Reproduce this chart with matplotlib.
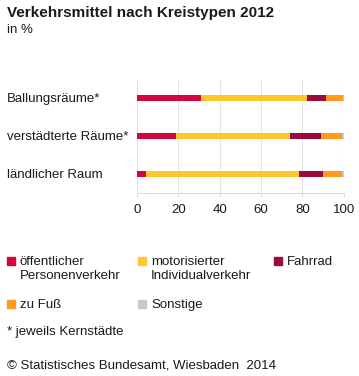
import matplotlib.pyplot as plt
from matplotlib.patches import Rectangle

plt.rcParams['font.family'] = ['Liberation Sans', 'DejaVu Sans']

regions = ['Ballungsräume*', 'verstädterte Räume*', 'ländlicher Raum']
series = ['öffentlicher\nPersonenverkehr', 'motorisierter\nIndividualverkehr', 'Fahrrad', 'zu Fuß', 'Sonstige']
oepv = [31, 19, 4.5]
miv = [51, 55, 74]
fahrrad = [9.5, 15, 11.5]
fuss = [8, 10, 9]
sonstige = [0.5, 1, 1]
values = [oepv, miv, fahrrad, fuss, sonstige]
colors = ['#d2073b', '#ffc72c', '#9c0b3d', '#ff9a1c', '#c9c9c9']
ticks = [0, 20, 40, 60, 80, 100]

fig = plt.figure(figsize=(3.59, 3.76), dpi=100)
ax = fig.add_axes([0.381, 0.487, 0.577, 0.300])

left = [0, 0, 0]
for vals, c in zip(values, colors):
    ax.barh(range(len(regions)), vals, left=left, height=0.16, color=c, zorder=3)
    left = [a + b for a, b in zip(left, vals)]

ax.set_xlim(0, 100)
ax.set_ylim(2.5, -0.47)
ax.set_xticks(ticks)
ax.set_yticks(range(len(regions)))
ax.set_yticklabels(regions, fontsize=9.5, color='#1a1a1a')
ax.tick_params(axis='y', length=0, pad=0)
for lab in ax.get_yticklabels():
    lab.set_horizontalalignment('left')
    lab.set_x(-0.627)
ax.tick_params(axis='x', length=3, color='#dddddd', labelsize=9.5, labelcolor='#1a1a1a', pad=5)
ax.grid(axis='x', color='#e3e3e3', lw=0.8, zorder=0)
for s in ['top', 'right', 'left']:
    ax.spines[s].set_visible(False)
ax.spines['bottom'].set_color('#dddddd')

W, H = 359, 376


def fx(px):
    return px / W


def fy(py):
    return 1 - py / H


fig.text(fx(7), fy(17), 'Verkehrsmittel nach Kreistypen 2012', fontsize=11,
         fontweight='bold', color='#1a1a1a', va='baseline')
fig.text(fx(7), fy(33), 'in %', fontsize=9.5, color='#1a1a1a', va='baseline')

# legend, squares centred on first text line
pos = [(7, 261), (138, 261), (274, 261), (7, 304), (138, 304)]
for name, c, (x, y) in zip(series, colors, pos):
    fig.patches.append(Rectangle((fx(x), fy(y + 4)), 8 / W, 8 / H,
                                 transform=fig.transFigure, color=c))
    fig.text(fx(x + 13), fy(y - 5), name, fontsize=9.5, color='#1a1a1a',
             va='top', linespacing=1.25)

fig.text(fx(7), fy(332), '* jeweils Kernstädte', fontsize=9.5, color='#1a1a1a', va='center')
fig.text(fx(7), fy(366), '© Statistisches Bundesamt, Wiesbaden  2014', fontsize=9.5,
         color='#1a1a1a', va='center')

fig.savefig('out.png', dpi=100)
